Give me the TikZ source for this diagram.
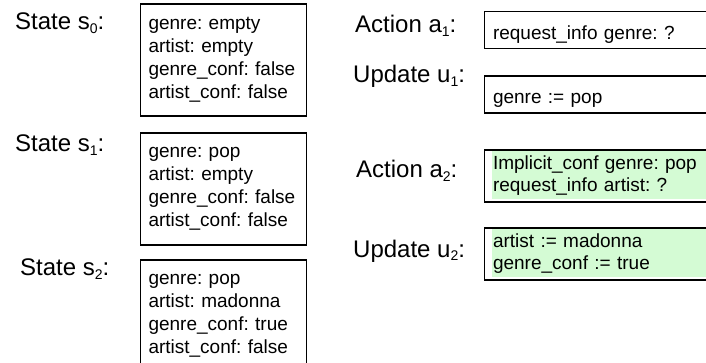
\documentclass[tikz,border=0pt]{standalone}
\usepackage{fontspec}
\setmainfont{Liberation Sans}
\usepackage{xcolor}
\usetikzlibrary{positioning}
\frenchspacing
\definecolor{mint}{RGB}{212,251,212}
\newcommand{\idx}[1]{\raisebox{-4pt}{\fontsize{14}{14}\selectfont #1}}

\begin{document}
\begin{tikzpicture}[x=1pt, y=1pt,
  lbl/.style={anchor=base west, inner sep=0pt, font=\fontsize{24}{28}\selectfont},
  st/.style={draw, line width=1.3pt, outer sep=0pt, anchor=north west, align=left,
    text width=150pt, inner xsep=8pt, minimum height=112pt, font=\fontsize{19}{23}\selectfont},
  act/.style={draw, line width=1.3pt, outer sep=0pt, anchor=north west, align=left,
    text width=223pt, inner xsep=8.5pt, minimum height=37pt, text height=23pt, text depth=4pt,
    font=\fontsize{19}{22}\selectfont},
  hl/.style={act, line width=1.8pt, minimum height=52pt, text height=, text depth=,
    path picture={\fill[mint] ([xshift=7pt]path picture bounding box.north west)
      rectangle ([yshift=3pt]path picture bounding box.south east);}}
]
\useasboundingbox (0,0) rectangle (706,-363);
\clip (0,0) rectangle (706,-363);
% states
\node[st] (s0) at (140.5,-4) {genre: empty\\artist: empty\\genre\_conf: false\\artist\_conf: false};
\node[st, below=17pt of s0] (s1) {genre: pop\\artist: empty\\genre\_conf: false\\artist\_conf: false};
\node[st, below=15pt of s1] (s2) {genre: pop\\artist: madonna\\genre\_conf: true\\artist\_conf: false};
\node[lbl] (ls0) at (15,-30) {State s\idx{0}:};
\node[lbl] (ls1) at (15,-152) {State s\idx{1}:};
\node[lbl] (ls2) at (20,-275) {State s\idx{2}:};
% actions and updates
\node[act] (a1) at (484.5,-11.5) {request\_info genre: ?};
\node[act, below=27.5pt of a1] (u1) {genre := pop};
\node[hl, below=37pt of u1] (a2) {Implicit\_conf genre: pop\\request\_info artist: ?};
\node[hl, below=26pt of a2] (u2) {artist := madonna\\genre\_conf := true};
\node[lbl] (la1) at (355,-33) {Action a\idx{1}:};
\node[lbl] (lu1) at (353,-83) {Update u\idx{1}:};
\node[lbl] (la2) at (356,-178) {Action a\idx{2}:};
\node[lbl] (lu2) at (353,-257) {Update u\idx{2}:};
\end{tikzpicture}
\end{document}
